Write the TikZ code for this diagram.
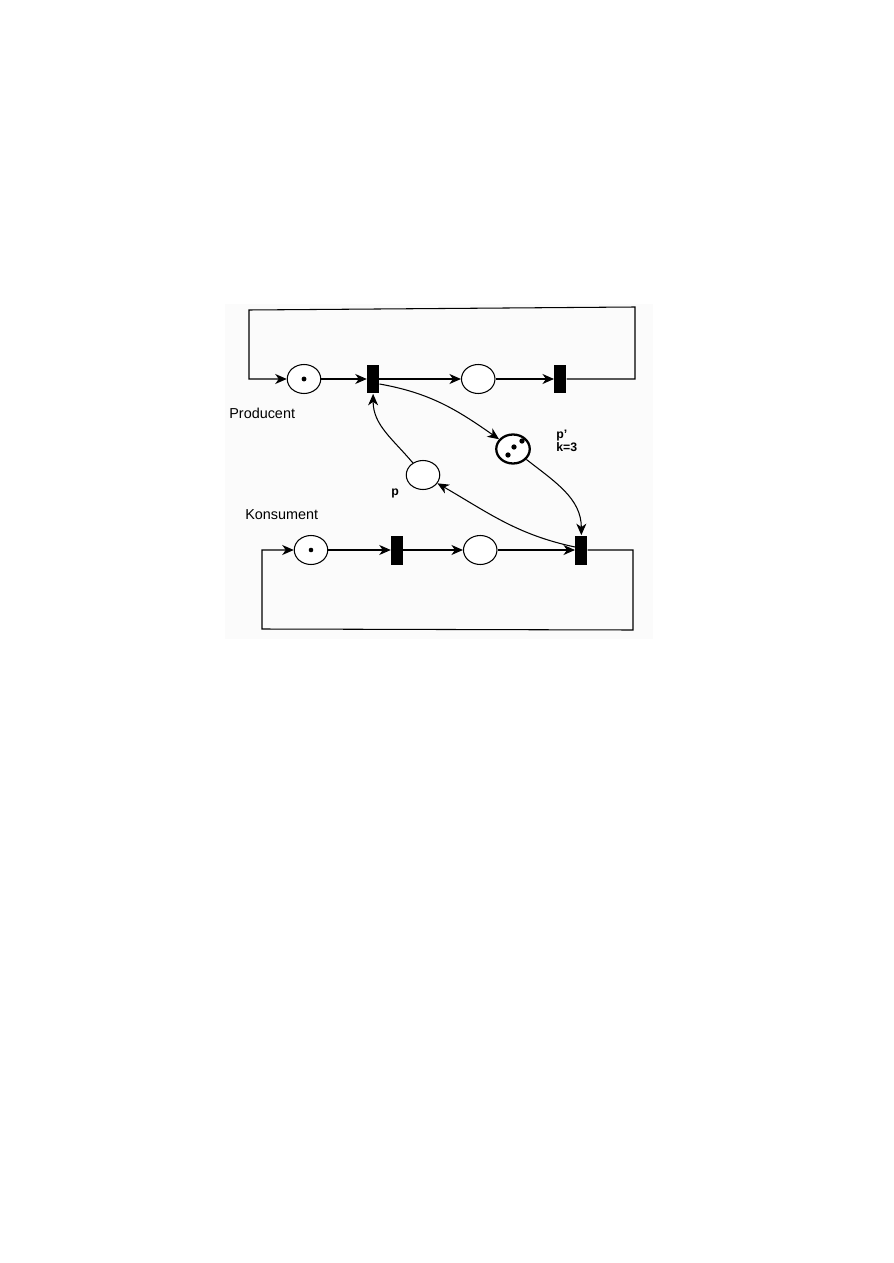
\documentclass[tikz,border=0pt]{standalone}
\usepackage{fontspec}
\setmainfont{Liberation Sans}
\usetikzlibrary{arrows.meta,positioning,shapes.geometric}
\definecolor{tlo}{RGB}{251,251,251}
\tikzset{
  miejsce/.style={ellipse,draw,line width=0.6pt,fill=white,minimum width=0.67cm,
    minimum height=0.58cm,inner sep=0pt},
  bufor/.style={miejsce,line width=1.3pt},
  przejscie/.style={rectangle,fill=black,minimum width=0.24cm,minimum height=0.58cm,inner sep=0pt},
  luk/.style={-{Stealth[length=2.3mm,width=2mm,inset=0.7mm]},line width=0.6pt},
  znacznik/.style={fill=black},
  opis/.style={font=\fontsize{8.2}{10}\selectfont,anchor=west,inner sep=0pt},
  opism/.style={font=\bfseries\fontsize{7}{7.4}\selectfont,anchor=west,inner sep=0pt,align=left},
}

\begin{document}
\begin{tikzpicture}[x=0.02cm,y=0.02cm]
  \useasboundingbox (0,0) rectangle (893,-1263);
  \fill[tlo] (225,-304) rectangle (653,-639);
  % producent
  \node[miejsce] (p1) at (304,-379) {};
  \node[przejscie,right=0.91cm of p1] (t1) {};
  \node[miejsce,right=1.63cm of t1] (p2) {};
  \node[przejscie,right=1.17cm of p2] (t2) {};
  \node[opis] (prod) at (229,-413) {Producent};
  % konsument
  \node[miejsce] (k1) at (311,-550) {};
  \node[przejscie,right=1.25cm of k1] (t4) {};
  \node[miejsce,right=1.19cm of t4] (k2) {};
  \node[przejscie,right=1.55cm of k2] (t3) {};
  \node[opis] (kons) at (245,-515) {Konsument};
  % bufor
  \node[bufor] (pp) at (513,-449) {};
  \node[miejsce] (p) at (423,-475) {};
  \node[opism] (etpp) at (556,-441) {p'\\k=3};
  \node[opism] (etp) at (391,-493) {p};
  % znaczniki
  \fill[znacznik] (p1) circle (1.4pt);
  \fill[znacznik] (k1) circle (1.3pt);
  \fill[znacznik] ([shift={(9,8)}]pp) circle (1.5pt);
  \fill[znacznik] ([shift={(1,2)}]pp) circle (1.5pt);
  \fill[znacznik] ([shift={(-5,-6)}]pp) circle (1.5pt);
  % luki
  \coordinate (gp) at (635,-307);
  \coordinate (gl) at (249,-310);
  \coordinate (dp) at (633,-630);
  \coordinate (dl) at (262,-629);
  \draw[luk] (p1) -- (t1);
  \draw[luk] (t1) -- (p2);
  \draw[luk] (p2) -- (t2);
  \draw[luk] (t2.east) -| (gp) -- (gl) |- (p1);
  \draw[luk] (k1) -- (t4);
  \draw[luk] (t4) -- (k2);
  \draw[luk] (k2) -- (t3);
  \draw[luk] (t3.east) -| (dp) -- (dl) |- (k1);
  \draw[luk] ([yshift=-0.1cm]t1.east) to[out=-10,in=145] (pp);
  \draw[luk] (pp) to[out=-38,in=90] (t3.north);
  \draw[luk] ([yshift=0.06cm]t3.west) to[out=168,in=-30] (p);
  \draw[luk] (p) to[out=130,in=-90] (t1.south);
\end{tikzpicture}
\end{document}
